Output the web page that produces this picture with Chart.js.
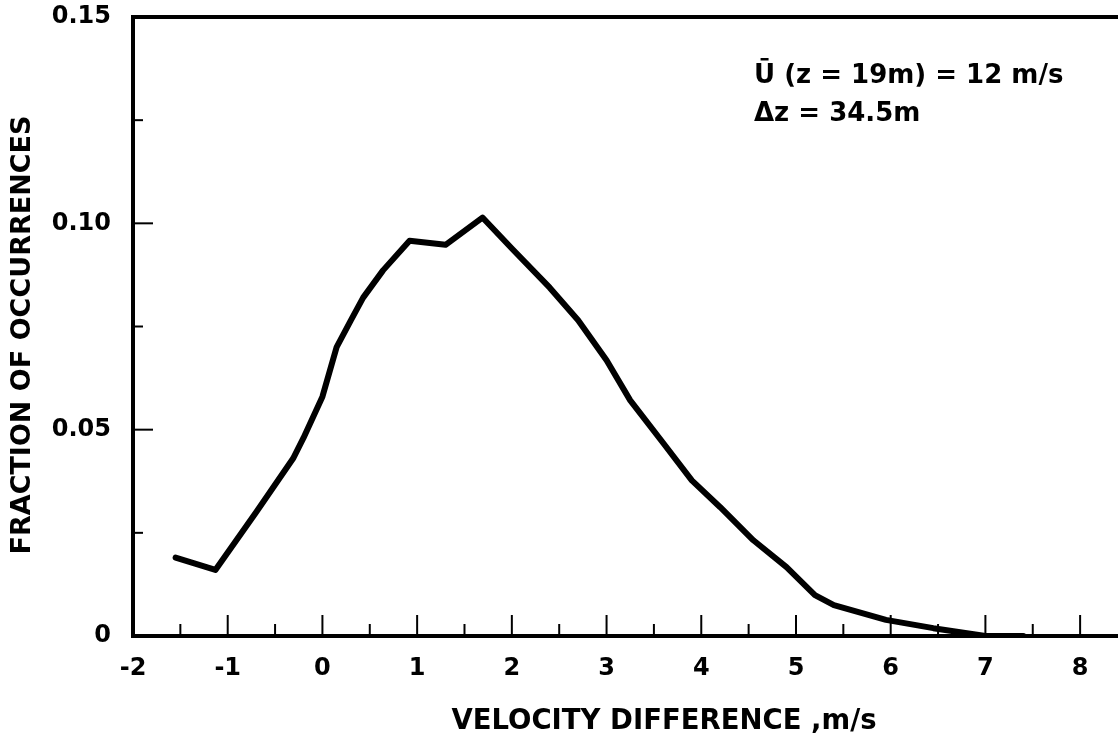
<!DOCTYPE html>
<html>
<head>
<meta charset="utf-8">
<script src="https://cdn.jsdelivr.net/npm/chart.js@4.4.0/dist/chart.umd.min.js"></script>
<style>
  html, body { margin: 0; padding: 0; background: #fff; }
  #wrap { width: 1118px; height: 739px; }
</style>
</head>
<body>
<div id="wrap"><canvas id="myChart"></canvas></div>
<script>
// velocity difference (m/s) and fraction of occurrences
const velocity = [-1.55, -1.13, -0.7, -0.31, -0.2, 0.0, 0.15, 0.3, 0.43, 0.64, 0.92, 1.3, 1.69,
    2.0, 2.4, 2.7, 3.0, 3.25, 3.6, 3.9, 4.2, 4.55, 4.9, 5.2, 5.4, 5.95, 6.45, 7.0, 7.4];
const fraction = [0.019, 0.016, 0.030, 0.043, 0.048, 0.058, 0.070, 0.0765, 0.082, 0.0886, 0.0958, 0.0948, 0.1014,
    0.0939, 0.0844, 0.0765, 0.0668, 0.0571, 0.0467, 0.0377, 0.0312, 0.0232, 0.0167, 0.0099, 0.0075, 0.0039, 0.0019, 0.0, 0.0];

const xMajorTicks = [-1, 0, 1, 2, 3, 4, 5, 6, 7, 8];
const xMinorTicks = [-1.5, -0.5, 0.5, 1.5, 2.5, 3.5, 4.5, 5.5, 6.5, 7.5];
const yMajorTicks = [0.05, 0.10];
const yMinorTicks = [0.025, 0.075, 0.125];

const noteLines = ['\u016A (z = 19m) = 12 m/s', '\u0394z = 34.5m'];
const xTitle = 'VELOCITY DIFFERENCE ,m/s';
const yTitle = 'FRACTION OF OCCURRENCES';

const FONT = "'DejaVu Sans', 'Liberation Sans', sans-serif";

document.addEventListener('DOMContentLoaded', () => {
    const ctx = document.getElementById('myChart').getContext('2d');

    // frame, inward tick marks, axis titles and the note in the corner
    const frameAndTicks = {
        id: 'frameAndTicks',
        afterDraw(chart) {
            const c = chart.ctx;
            const a = chart.chartArea;
            const x = chart.scales.x;
            const y = chart.scales.y;
            c.save();
            c.strokeStyle = '#000';
            c.lineCap = 'butt';

            const seg = (x1, y1, x2, y2) => {
                c.beginPath();
                c.moveTo(x1, y1);
                c.lineTo(x2, y2);
                c.stroke();
            };

            c.lineWidth = 2;
            xMajorTicks.forEach(v => { const p = x.getPixelForValue(v); seg(p, a.bottom, p, a.bottom - 21); });
            xMinorTicks.forEach(v => { const p = x.getPixelForValue(v); seg(p, a.bottom, p, a.bottom - 12); });
            yMajorTicks.forEach(v => { const p = y.getPixelForValue(v); seg(a.left, p, a.left + 20, p); });
            yMinorTicks.forEach(v => { const p = y.getPixelForValue(v); seg(a.left, p, a.left + 10, p); });

            c.lineWidth = 4;
            seg(a.left, a.top, a.right, a.top);
            seg(a.left, a.top - 2, a.left, a.bottom + 2);
            seg(a.left - 2, a.bottom, a.right, a.bottom);

            c.fillStyle = '#000';
            c.font = 'bold 27.5px ' + FONT;
            c.textAlign = 'center';
            c.textBaseline = 'middle';
            c.fillText(xTitle, 664, 722);

            c.font = 'bold 27px ' + FONT;
            c.save();
            c.translate(23, 335);
            c.rotate(-Math.PI / 2);
            c.fillText(yTitle, 0, 0);
            c.restore();

            c.font = 'bold 26px ' + FONT;
            c.textAlign = 'left';
            c.fillText(noteLines[0], 754, 76);
            c.fillText(noteLines[1], 754, 114);
            c.restore();
        }
    };

    const data = {
        datasets: [{
            label: 'Fraction of occurrences',
            data: velocity.map((v, i) => ({ x: v, y: fraction[i] })),
            borderColor: '#000',
            borderWidth: 6,
            pointRadius: 0,
            tension: 0,
            borderJoinStyle: 'round',
            borderCapStyle: 'round',
            fill: false
        }]
    };

    const config = {
        type: 'line',
        data: data,
        options: {
            responsive: true,
            maintainAspectRatio: false,
            animation: false,
            layout: { padding: { top: 17, right: 0, left: 0, bottom: 0 } },
            plugins: {
                legend: { display: false },
                tooltip: { enabled: false }
            },
            scales: {
                x: {
                    type: 'linear',
                    min: -2,
                    max: 8.4,
                    grid: { display: false },
                    border: { display: false },
                    afterFit: scale => {
                        scale.height = 103;
                        scale.paddingLeft = 0;
                        scale.paddingRight = 0;
                    },
                    ticks: {
                        stepSize: 1,
                        includeBounds: false,
                        padding: 10,
                        color: '#000',
                        font: { family: FONT, size: 24, weight: 'bold' },
                        maxRotation: 0,
                        callback: v => String(v)
                    }
                },
                y: {
                    min: 0,
                    max: 0.15,
                    grid: { display: false },
                    border: { display: false },
                    afterFit: scale => {
                        scale.width = 133;
                        scale.paddingTop = 0;
                        scale.paddingBottom = 0;
                    },
                    ticks: {
                        stepSize: 0.05,
                        padding: 14,
                        color: '#000',
                        font: { family: FONT, size: 24, weight: 'bold' },
                        callback: v => (v === 0 ? '0' : v.toFixed(2))
                    }
                }
            }
        },
        plugins: [frameAndTicks]
    };

    new Chart(ctx, config);
});
</script>
</body>
</html>
